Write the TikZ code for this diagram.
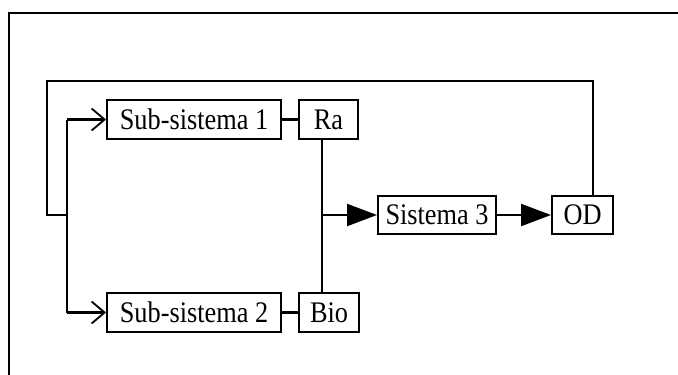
\documentclass[tikz,border=0pt]{standalone}
\usepackage{fontspec}
\usepackage{graphicx}
\setmainfont{Liberation Serif}
\usetikzlibrary{arrows.meta}
\newcommand{\narrow}[1]{\scalebox{0.88}[1]{#1}}
\begin{document}
\begin{tikzpicture}[x=1bp,y=-1bp,
  blk/.style={draw,line width=2bp,inner sep=0pt,minimum height=39bp,
    font=\fontsize{30}{30}\selectfont},
  wire/.style={line width=2.2bp},
  openarr/.style={wire,-{Straight Barb[length=13bp,width=22bp,line width=1.8bp]}},
  fillarr/.style={wire,-{Triangle[length=30bp,width=22bp]}}]
  \useasboundingbox (0,0) rectangle (678,374);
  % outer frame
  \draw[line width=2.8bp] (9,380) -- (9,13) -- (690,13);
  % blocks
  \node[blk,minimum width=174bp] (s1) at (194,119.5) {\narrow{Sub-sistema 1}};
  \node[blk,minimum width=59bp] (ra) at (328.5,119.5) {\narrow{Ra}};
  \node[blk,minimum width=174bp] (s2) at (194,312.5) {\narrow{Sub-sistema 2}};
  \node[blk,minimum width=60bp] (bio) at (329,312.5) {\narrow{Bio}};
  \node[blk,minimum width=118bp,minimum height=38bp] (s3) at (437,215) {\narrow{Sistema 3}};
  \node[blk,minimum width=61bp,minimum height=38bp] (od) at (582.5,215) {\narrow{OD}};
  % junction points
  \coordinate (split) at (67,215);
  \coordinate (merge) at (322,215);
  \coordinate (fbx) at (593,81);
  \coordinate (fbl) at (47,81);
  % feedback loop from OD back to the two sub-systems
  \draw[wire] (od.north -| fbx) -- (fbx) -- (fbl) -- (fbl |- split) -- (split);
  \draw[wire] (split |- s1) -- (split |- s2);
  \draw[openarr] (split |- s1) -- (s1.west);
  \draw[openarr] (split |- s2) -- (s2.west);
  % outputs of the sub-systems
  \draw[wire] (s1.east) -- (ra.west);
  \draw[wire] (s2.east) -- (bio.west);
  \draw[wire] (ra.south -| merge) -- (bio.north -| merge);
  \draw[fillarr] (merge) -- (s3.west);
  \draw[fillarr] (s3.east) -- (od.west);
\end{tikzpicture}
\end{document}
